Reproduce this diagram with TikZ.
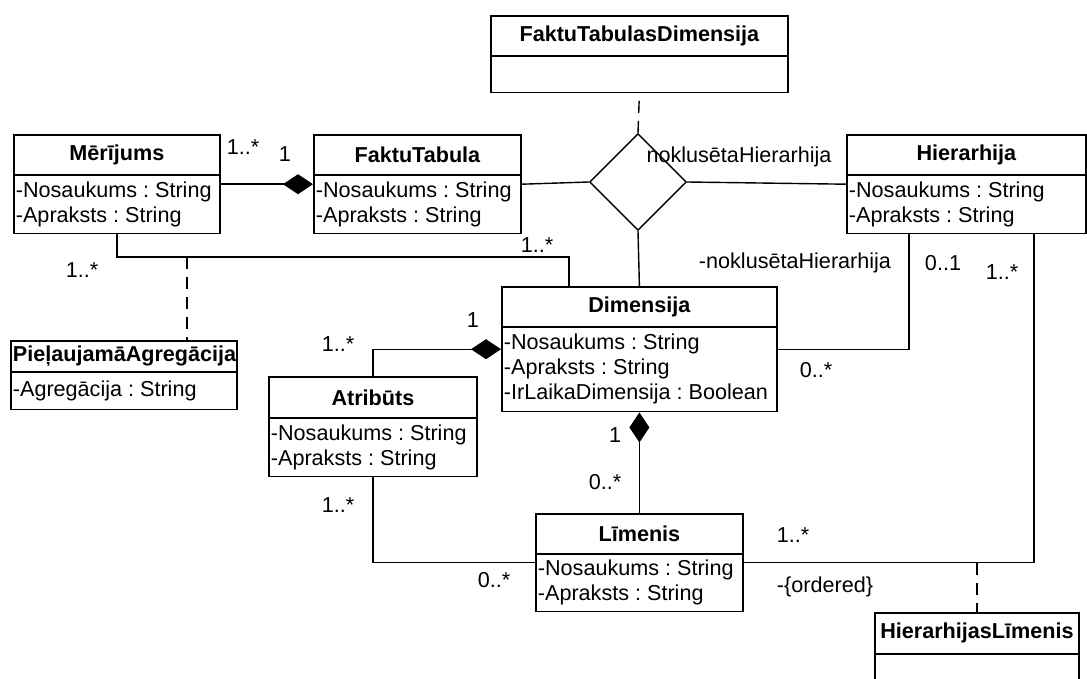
\documentclass[tikz,border=0pt]{standalone}
\usepackage{fontspec}
\setmainfont{Liberation Sans}
\usetikzlibrary{shapes.multipart,shapes.geometric,arrows.meta}
\frenchspacing

\newcommand{\classtitle}[3]{\parbox[c][#2][c]{#1}{\centering\bfseries #3}}
\newcommand{\classattrs}[3]{\parbox[c][#2][c]{#1}{\raggedright #3}}

\tikzset{
  umlclass/.style={rectangle split, rectangle split parts=2, draw, line width=0.9pt,
    inner xsep=1pt, inner ysep=0pt, anchor=north west, font=\fontsize{10.8}{12.5}\selectfont},
  link/.style={line width=0.7pt},
  composite/.style={link, -{Diamond[length=15pt,width=10pt]}},
  assocdash/.style={link, dash pattern=on 6pt off 4pt},
  lbl/.style={inner sep=0pt, font=\fontsize{10.8}{12.5}\selectfont}
}

\begin{document}
\begin{tikzpicture}[x=0.5pt,y=-0.5pt]
\useasboundingbox (0,0) rectangle (1087,679);
\clip (0,0) rectangle (1087,679);

% classes
\node[umlclass] (ftdim) at (490,15) {\classtitle{146.5pt}{19pt}{FaktuTabulasDimensija}\nodepart{two}\classattrs{146.5pt}{17.5pt}{}};
\node[umlclass] (merijums) at (13,134) {\classtitle{101pt}{19pt}{Mērījums}\nodepart{two}\classattrs{101pt}{28.5pt}{-Nosaukums : String\\-Apraksts : String}};
\node[umlclass] (faktutab) at (313,134) {\classtitle{101.5pt}{19pt}{FaktuTabula}\nodepart{two}\classattrs{101.5pt}{28.5pt}{-Nosaukums : String\\-Apraksts : String}};
\node[umlclass] (hierarhija) at (846,134) {\classtitle{117.5pt}{19pt}{Hierarhija}\nodepart{two}\classattrs{117.5pt}{28.5pt}{-Nosaukums : String\\-Apraksts : String}};
\node[umlclass] (dimensija) at (501,286) {\classtitle{135.5pt}{19pt}{Dimensija}\nodepart{two}\classattrs{135.5pt}{41.5pt}{-Nosaukums : String\\-Apraksts : String\\-IrLaikaDimensija : Boolean}};
\node[umlclass] (pielauj) at (10,340) {\classtitle{111pt}{14.5pt}{PieļaujamāAgregācija}\nodepart{two}\classattrs{111pt}{18pt}{-Agregācija : String}};
\node[umlclass] (atributs) at (268,376) {\classtitle{102pt}{19.5pt}{Atribūts}\nodepart{two}\classattrs{102pt}{28.5pt}{-Nosaukums : String\\-Apraksts : String}};
\node[umlclass] (limenis) at (535,513) {\classtitle{101.5pt}{19pt}{Līmenis}\nodepart{two}\classattrs{101.5pt}{28pt}{-Nosaukums : String\\-Apraksts : String}};
\node[umlclass] (hlimenis) at (874,612) {\classtitle{100pt}{19.5pt}{HierarhijasLīmenis}\nodepart{two}\classattrs{100pt}{20pt}{}};

% association diamond
\node[draw, diamond, link, minimum width=48.5pt, minimum height=48.5pt, inner sep=0pt] (assoc) at (638,182) {};

% bend points
\coordinate (mbend) at (569,257);
\coordinate (agrmid) at (187,257);
\coordinate (hleft) at (909,0);
\coordinate (hright) at (1034,0);

% connectors
\draw[composite] (merijums.east) -- (faktutab.west);
\draw[link] (faktutab.east) -- (assoc.west);
\draw[link] (assoc.east) -- (hierarhija.west);
\draw[link] (assoc.south) -- (dimensija.north);
\draw[assocdash] (assoc.north) -- (ftdim.south);
\draw[link] (merijums.south) |- (mbend) -- (mbend |- dimensija.north);
\draw[assocdash] (agrmid) -- (agrmid |- pielauj.north);
\draw[composite] (atributs.north) |- (dimensija.west);
\draw[link] (dimensija.east) -| (hleft |- hierarhija.south);
\draw[composite] (limenis.north) -- (dimensija.south);
\draw[link] (atributs.south) |- (limenis.west);
\draw[link] (limenis.east) -| (hright |- hierarhija.south);
\draw[assocdash] (hlimenis.north |- limenis.east) -- (hlimenis.north);

% multiplicities and roles
\node[lbl] (l1) at (243,147) {1..*};
\node[lbl] (l2) at (285,154) {1};
\node[lbl] (l3) at (82,270) {1..*};
\node[lbl] (l4) at (537,245) {1..*};
\node[lbl] (l5) at (739,157) {noklusētaHierarhija};
\node[lbl] (l6) at (795,263) {-noklusētaHierarhija};
\node[lbl] (l7) at (943,263) {0..1};
\node[lbl] (l8) at (1002,272) {1..*};
\node[lbl] (l9) at (816,370) {0..*};
\node[lbl] (l10) at (473,320) {1};
\node[lbl] (l11) at (338,344) {1..*};
\node[lbl] (l12) at (615,435) {1};
\node[lbl] (l13) at (605,482) {0..*};
\node[lbl] (l14) at (338,505) {1..*};
\node[lbl] (l15) at (494,580) {0..*};
\node[lbl] (l16) at (793,535) {1..*};
\node[lbl] (l17) at (825,587) {-\{ordered\}};
\end{tikzpicture}
\end{document}
